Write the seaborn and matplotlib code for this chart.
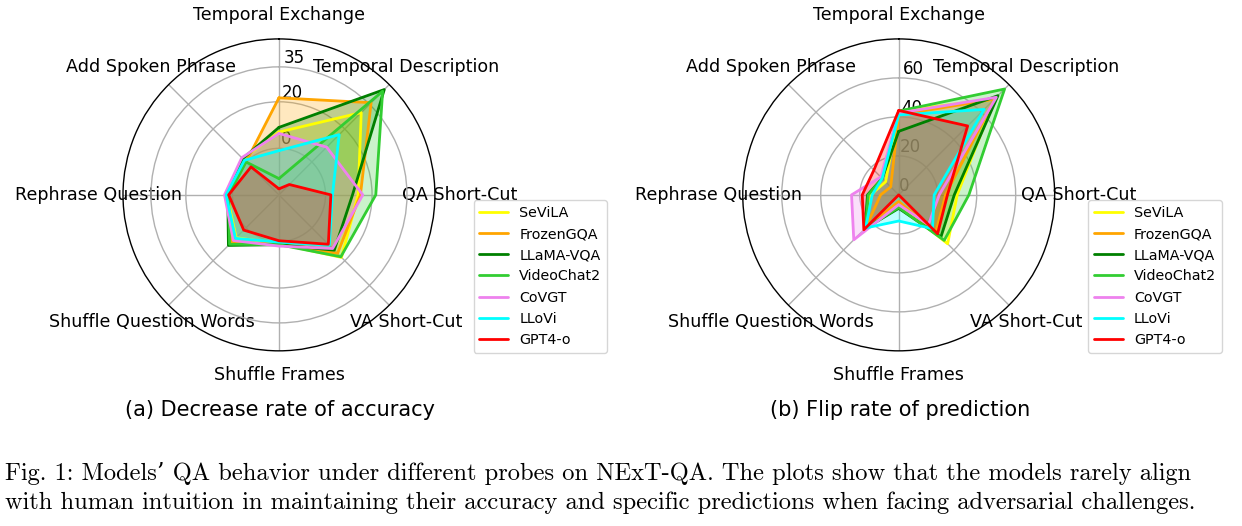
import numpy as np
import pandas as pd
import seaborn as sns
import matplotlib.pyplot as plt

categories = ["Temporal Exchange", "Temporal Description", "QA Short-Cut", "VA Short-Cut",
              "Shuffle Frames", "Shuffle Question Words", "Rephrase Question", "Add Spoken Phrase"]
models = ["SeViLA", "FrozenGQA", "LLaMA-VQA", "VideoChat2", "CoVGT", "LLoVi", "GPT4-o"]
colors = ["yellow", "orange", "green", "limegreen", "violet", "cyan", "red"]

# (a) decrease rate of accuracy
acc_sevila = [7, 30, 14, 18, 1, 6, 2.4, 2]
acc_frozengqa = [21.7, 36, 15, 15.6, 1, 9, 2, 0]
acc_llamavqa = [9, 44, 11.6, 13.6, 1.4, 10.7, 2, 2]
acc_videochat2 = [-13, 43, 21.6, 17.6, 1.4, 10, 1.6, 0]
acc_covgt = [6.4, 9, 16, 12.6, 2, 7.7, 3.4, 2.6]
acc_llovi = [-1, 16.6, 3, 10.6, 0.3, 6.4, 2.7, 1]
acc_gpt4o = [-17.4, -13.7, 2.3, 10, -0.3, 1.4, 1.6, -3]

# (b) flip rate of prediction
flip_sevila = [43, 69.5, 30, 35.5, 5, 24.5, 14.4, 9.5]
flip_frozengqa = [41, 69.5, 24, 27, 3.4, 24, 9.3, 5.8]
flip_llamavqa = [32.6, 72, 28.5, 30.6, 6.9, 24.5, 16, 12]
flip_videochat2 = [43, 76.8, 36, 33, 6.5, 24, 15.6, 12]
flip_covgt = [42, 70.8, 20.8, 21.6, 5, 32.6, 24.2, 13]
flip_llovi = [41, 62, 18.2, 24.5, 13.4, 24, 13.6, 12]
flip_gpt4o = [43.3, 50, 25, 28.2, 0, 25.3, 18.7, 18]

acc = [acc_sevila, acc_frozengqa, acc_llamavqa, acc_videochat2, acc_covgt, acc_llovi, acc_gpt4o]
flip = [flip_sevila, flip_frozengqa, flip_llamavqa, flip_videochat2, flip_covgt, flip_llovi, flip_gpt4o]

angles = np.linspace(0, 2 * np.pi, len(categories), endpoint=False)


def to_frame(values):
    rows = []
    for m, vals in zip(models, values):
        for a, v in zip(list(angles) + [2 * np.pi], list(vals) + [vals[0]]):
            rows.append({"theta": a, "value": v, "model": m})
    return pd.DataFrame(rows)


sns.set_style("white")
plt.rcParams['font.family'] = ['DejaVu Sans']
plt.rcParams['text.color'] = 'black'
plt.rcParams['xtick.color'] = 'black'
plt.rcParams['ytick.color'] = 'black'

fig = plt.figure(figsize=(12.42, 5.26), dpi=100)
ax1 = fig.add_axes([0.099, 0.333, 0.2512, 0.593], projection='polar')
ax2 = fig.add_axes([0.598, 0.333, 0.2512, 0.593], projection='polar')


def radar(ax, values, ylim, ticks, legend_x):
    ax.set_theta_offset(np.pi / 2)
    ax.set_theta_direction(-1)
    df = to_frame(values)
    sns.lineplot(data=df, x="theta", y="value", hue="model", palette=colors, sort=False,
                 estimator=None, linewidth=2, ax=ax)
    for m, c in zip(models, colors):
        d = df[df.model == m]
        ax.fill(d.theta, d.value, color=c, alpha=0.25)
    ax.set_ylim(*ylim)
    ax.set_yticks(ticks)
    ax.set_yticklabels([str(t) for t in ticks], fontsize=12)
    ax.set_rlabel_position(2)
    ax.set_xticks(angles)
    ax.set_xticklabels(categories, fontsize=12.6)
    ax.tick_params(axis='x', pad=7)
    ax.grid(True, color='#b0b0b0', linewidth=1)
    ax.spines['polar'].set_color('black')
    ax.spines['polar'].set_linewidth(1)
    ax.set_xlabel('')
    ax.set_ylabel('')
    h, l = ax.get_legend_handles_labels()
    ax.get_legend().remove()
    fig.legend(h, l, loc='upper left', bbox_to_anchor=(legend_x, 0.633), fontsize=10.3,
               frameon=True, edgecolor='#cccccc')


radar(ax1, acc, (-20, 47), [0, 20, 35], 0.3755)
radar(ax2, flip, (0, 80), [0, 20, 40, 60], 0.8705)

fig.text(280 / 1242, 1 - 410 / 526, "(a) Decrease rate of accuracy", ha='center', va='center', fontsize=15)
fig.text(900 / 1242, 1 - 410 / 526, "(b) Flip rate of prediction", ha='center', va='center', fontsize=15)

caption = ("Fig. 1: Models\u2019 QA behavior under different probes on NExT-QA. The plots show that the models rarely align\n"
           "with human intuition in maintaining their accuracy and specific predictions when facing adversarial challenges.")
fig.text(5 / 1242, 1 - 488 / 526, caption, ha='left', va='center', fontsize=17.6,
         family=['cmr10', 'DejaVu Serif'], linespacing=1.4)

fig.savefig("out.png", dpi=100)
